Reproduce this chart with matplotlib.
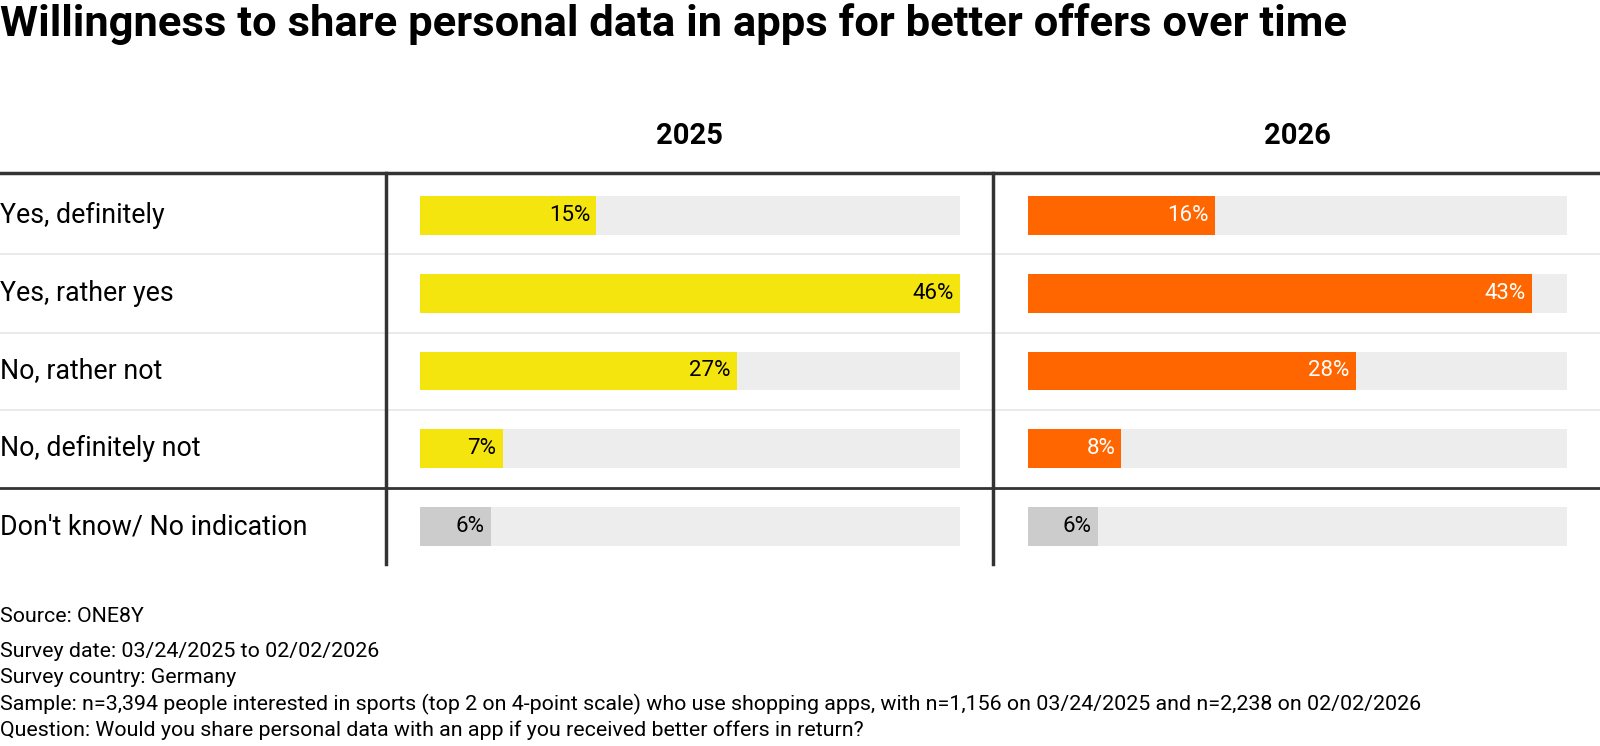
import matplotlib
matplotlib.use("Agg")
import matplotlib.pyplot as plt
from matplotlib.lines import Line2D

# layout is measured on a 1568 x 731 view of the reference
W, H = 1568, 731

title = "Willingness to share personal data in apps for better offers over time"
years = ["2025", "2026"]
categories = ["Yes, definitely", "Yes, rather yes", "No, rather not",
              "No, definitely not", "Don't know/ No indication"]
values_2025 = [15, 46, 27, 7, 6]
values_2026 = [16, 43, 28, 8, 6]
notes = [
    "Source: ONE8Y",
    "Survey date: 03/24/2025 to 02/02/2026",
    "Survey country: Germany",
    "Sample: n=3,394 people interested in sports (top 2 on 4-point scale) who use shopping apps, with n=1,156 on 03/24/2025 and n=2,238 on 02/02/2026",
    "Question: Would you share personal data with an app if you received better offers in return?",
]

plt.rcParams['font.family'] = ['Roboto', 'DejaVu Sans']

fig = plt.figure(figsize=(16, 7.46), dpi=100)


def fx(px):
    return px / W


def fy(py):
    return 1 - py / H


# title
fig.text(fx(0), fy(24), title, fontsize=31.3, fontweight='bold', va='center', ha='left')

# grid lines
dark = '#333333'
light = '#e6e6e6'
fig.add_artist(Line2D([0, 1], [fy(170), fy(170)], color=dark, lw=2.5))
for py in [249, 326, 402]:
    fig.add_artist(Line2D([0, 1], [fy(py), fy(py)], color=light, lw=1.2))
fig.add_artist(Line2D([0, 1], [fy(478), fy(478)], color=dark, lw=2))
for px in [378, 973]:
    fig.add_artist(Line2D([fx(px), fx(px)], [fy(170), fy(553)], color=dark, lw=2.5))

# row labels
row0, step = 211, 76.25
for i, c in enumerate(categories):
    fig.text(fx(0), fy(row0 + step * i), c, fontsize=19.3, va='center', ha='left')

panels = [
    (412, values_2025, '#f5e50f', 'black', 676),
    (1007, values_2026, '#ff6600', 'white', 1271),
]
vmax = max(values_2025 + values_2026)
ylo = (553 - row0) / step
yhi = (170 - row0) / step
for yr, (left, vals, col, tcol, cx) in zip(years, panels):
    fig.text(fx(cx), fy(133), yr, fontsize=21, fontweight='bold', ha='center', va='center')
    ax = fig.add_axes([fx(left), fy(553), fx(529), (553 - 170) / H])
    ax.set_xlim(0, vmax)
    ax.set_ylim(ylo, yhi)
    ax.axis('off')
    n = len(vals)
    ax.barh(range(n), [vmax] * n, height=0.5, color='#ededed')
    colors = [col] * (n - 1) + ['#cccccc']
    ax.barh(range(n), vals, height=0.5, color=colors)
    for i, v in enumerate(vals):
        tc = tcol if i < n - 1 else 'black'
        ax.annotate(f"{v}%", (v, i), xytext=(-4.5, 0), textcoords='offset points',
                    ha='right', va='center', fontsize=16, color=tc)

# footnotes
fig.text(fx(0), fy(604), notes[0], fontsize=15.4, va='center', ha='left')
for j, t in enumerate(notes[1:]):
    fig.text(fx(0), fy(638 + 26 * j), t, fontsize=15.4, va='center', ha='left')

fig.savefig("out.png", dpi=100)
